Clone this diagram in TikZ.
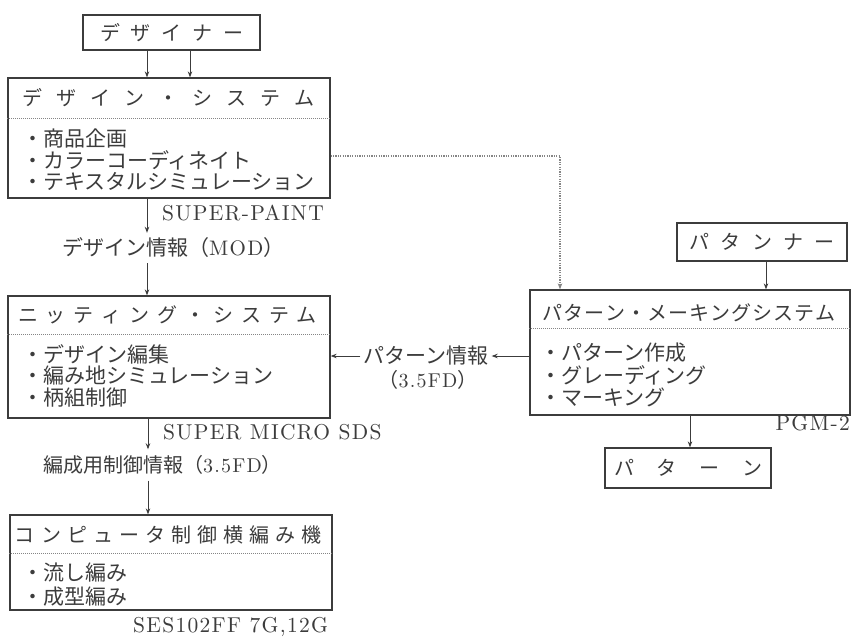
\documentclass[tikz,border=0pt]{standalone}
\usepackage{fontspec}
\newfontfamily\cjk{Noto Sans CJK JP}
\newfontfamily\lat{lmroman10-regular.otf}[LetterSpace=6]
\usetikzlibrary{arrows.meta}
\definecolor{ink}{HTML}{3C3C3C}
\definecolor{dotc}{HTML}{858585}
\begin{document}
\begin{tikzpicture}[x=1pt,y=-1pt,
  box/.style={draw=ink, line width=1.3pt, inner sep=0pt},
  jp/.style={text=ink, inner sep=0pt, font=\cjk\fontsize{20}{22}\selectfont},
  jpl/.style={text=ink, inner sep=0pt, font=\cjk\fontsize{21}{23}\selectfont},
  item/.style={jpl, anchor=west},
  lat/.style={text=ink, inner sep=0pt, font=\lat\fontsize{21.5}{23}\selectfont},
  arr/.style={draw=ink, line width=0.9pt, -{Stealth[length=6pt,width=4.5pt]}},
  sep/.style={draw=dotc, line width=0.9pt, dash pattern=on 1pt off 1pt},
  dotarr/.style={draw=dotc, line width=1.2pt, dash pattern=on 1.2pt off 1.2pt, -{Stealth[length=6pt,width=4.5pt]}}
]
\useasboundingbox (0,0) rectangle (852,638);
\fill[white] (0,0) rectangle (852,638);

% ---- boxes
\node[box, jp, minimum width=177pt, minimum height=35pt] (dz) at (171.5,32.5)
  {\makebox[143pt]{デ\hfill ザ\hfill イ\hfill ナ\hfill ー}};
\node[box, minimum width=322pt, minimum height=120pt] (ds) at (169,138) {};
\node[box, minimum width=322pt, minimum height=122pt] (ks) at (169,357) {};
\node[box, minimum width=322pt, minimum height=95pt] (cm) at (171,562.5) {};
\node[box, jp, minimum width=170pt, minimum height=38pt] (pn) at (762,242)
  {\makebox[145pt]{パ\hfill タ\hfill ン\hfill ナ\hfill ー}};
\node[box, minimum width=320pt, minimum height=125pt] (pm) at (690,352.5) {};
\node[box, jp, minimum width=166pt, minimum height=40pt] (pt) at (688,468)
  {\makebox[148pt]{パ\hfill タ\hfill ー\hfill ン}};

% ---- design system
\node[jp] (dst) at (168.5,98) {\makebox[293pt]{デ\hfill ザ\hfill イ\hfill ン\hfill ・\hfill シ\hfill ス\hfill テ\hfill ム}};
\coordinate (dsep) at (0,118);
\draw[sep] (ds.west |- dsep) -- (ds.east |- dsep);
\node[item] (ds1) at (22,138) {・商品企画};
\node[item] (ds2) at (22,160) {・カラーコーディネイト};
\node[item] (ds3) at (22,182) {・テキスタルシミュレーション};

% ---- knitting system
\node[jp] (kst) at (167.5,315) {\makebox[299pt]{ニ\hfill ッ\hfill テ\hfill ィ\hfill ン\hfill グ\hfill ・\hfill シ\hfill ス\hfill テ\hfill ム}};
\coordinate (ksep) at (0,334);
\draw[sep] (ks.west |- ksep) -- (ks.east |- ksep);
\node[item] (ks1) at (22,354) {・デザイン編集};
\node[item] (ks2) at (22,376) {・編み地シミュレーション};
\node[item] (ks3) at (22,398) {・柄組制御};

% ---- computer knitting machine
\node[jp] (cmt) at (168.5,535) {\makebox[307pt]{コ\hfill ン\hfill ピ\hfill ュ\hfill ー\hfill タ\hfill 制\hfill 御\hfill 横\hfill 編\hfill み\hfill 機}};
\coordinate (csep) at (0,553);
\draw[sep] (cm.west |- csep) -- (cm.east |- csep);
\node[item] (cm1) at (22,573) {・流し編み};
\node[item] (cm2) at (22,597) {・成型編み};

% ---- pattern making system
\node[jp] (pmt) at (688.5,312.5) {\makebox[293pt]{パ\hfill タ\hfill ー\hfill ン\hfill ・\hfill メ\hfill ー\hfill キ\hfill ン\hfill グ\hfill シ\hfill ス\hfill テ\hfill ム}};
\coordinate (psep) at (0,328);
\draw[sep] (pm.west |- psep) -- (pm.east |- psep);
\node[item] (pm1) at (540,353) {・パターン作成};
\node[item] (pm2) at (540,375) {・グレーディング};
\node[item] (pm3) at (540,397) {・マーキング};

% ---- labels
\node[lat, anchor=west] (sp) at (162,213) {SUPER-PAINT};
\node[jpl, anchor=west, inner ysep=5pt] (dj) at (62,248) {デザイン情報（{\lat MOD}）};
\node[lat, anchor=west] (sm) at (163,432) {SUPER MICRO SDS};
\node[jp, anchor=west, inner ysep=6pt] (ej) at (43,465) {編成用制御情報（{\lat 3.5FD}）};
\node[lat, anchor=west] (ses) at (133,627) {SES102FF 7G,12G};
\node[lat, anchor=east] (pgm) at (850,423) {PGM-2};
\node[jpl, inner xsep=3pt] (pinfo) at (426,356) {パターン情報};
\node[jp] (pfd) at (428,380) {（{\lat 3.5FD}）};

% ---- connectors
\draw[arr] (147,0 |- dz.south) -- (147,0 |- ds.north);
\draw[arr] (190,0 |- dz.south) -- (190,0 |- ds.north);
\draw[arr] (147,0 |- ds.south) -- (147,0 |- dj.north);
\draw[arr] (147,0 |- dj.south) -- (147,0 |- ks.north);
\draw[arr] (148,0 |- ks.south) -- (148,0 |- ej.north);
\draw[arr] (148,0 |- ej.south) -- (148,0 |- cm.north);
\draw[arr] (766,0 |- pn.south) -- (766,0 |- pm.north);
\draw[arr] (690,0 |- pm.south) -- (690,0 |- pt.north);
\draw[arr] (pm.west |- pinfo) -- (pinfo.east);
\draw[arr] (pinfo.west) -- (ks.east |- pinfo);
\coordinate (dcorner) at (560,156);
\draw[dotarr] (ds.east |- dcorner) -- (dcorner) -- (dcorner |- pm.north);
\end{tikzpicture}
\end{document}
